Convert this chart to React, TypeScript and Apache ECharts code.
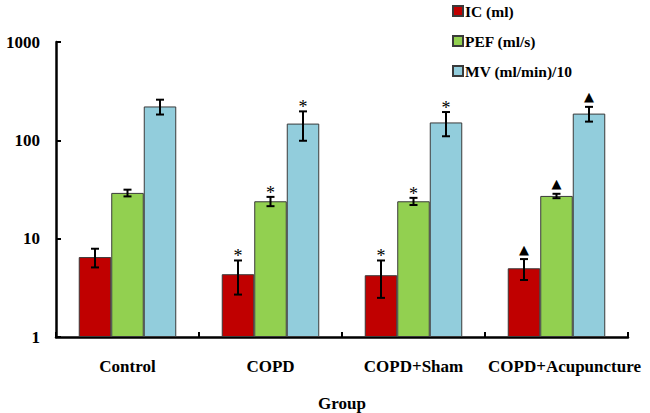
import React, { useEffect, useRef } from "react";
import * as echarts from "echarts";

const categories = ["Control", "COPD", "COPD+Sham", "COPD+Acupuncture"];
const seriesNames = ["IC (ml)", "PEF (ml/s)", "MV (ml/min)/10"];
const colors = ["#C00000", "#92D050", "#92CDDC"];
const icMean = [6.5, 4.35, 4.25, 5.0];
const icSd = [1.4, 1.65, 1.75, 1.2];
const pefMean = [29.2, 24.0, 24.0, 27.2];
const pefSd = [2.3, 2.6, 2.0, 1.4];
const mvMean = [221, 148, 152, 187];
const mvSd = [38, 49, 42, 32];
const icMarks = ["", "*", "*", "▲"];
const pefMarks = ["", "*", "*", "▲"];
const mvMarks = ["", "*", "*", "▲"];
const yTicks = [1, 10, 100, 1000];

const FONT = "Liberation Serif";

export default function App() {
  const ref = useRef<HTMLDivElement>(null);
  useEffect(() => {
    if (!ref.current) return;
    const chart = echarts.init(ref.current, null, { renderer: "svg" });
    const means = [icMean, pefMean, mvMean];
    const sds = [icSd, pefSd, mvSd];
    const marks = [icMarks, pefMarks, mvMarks];
    const errData: number[][] = [];
    const errMarks: string[] = [];
    means.forEach((arr, s) =>
      arr.forEach((m, c) => {
        errData.push([c, s, m, sds[s][c]]);
        errMarks.push(marks[s][c]);
      })
    );
    const gapFrac = 0.318;
    const barSeries = seriesNames.map((name, s) => ({
      name,
      type: "bar",
      data: means[s],
      barGap: "0%",
      barCategoryGap: "31.8%",
      itemStyle: { color: colors[s], borderColor: "#3a3a3a", borderWidth: 1 },
    }));
    const lastCat = categories[categories.length - 1];
    const option: any = {
      animation: false,
      backgroundColor: "#ffffff",
      textStyle: { fontFamily: FONT },
      grid: { left: 56, right: 22, top: 42, bottom: 76, outerBoundsMode: "none", containLabel: false },
      legend: {
        orient: "vertical",
        left: 447,
        top: -2,
        itemWidth: 10,
        itemHeight: 10,
        itemGap: 14,
        icon: "rect",
        data: seriesNames,
        textStyle: { fontFamily: FONT, fontWeight: "bold", fontSize: 15.5, color: "#000", padding: [0, 0, 0, -3] },
      },
      xAxis: {
        type: "category",
        data: categories,
        name: "Group",
        nameLocation: "middle",
        nameGap: 58,
        nameTextStyle: { fontFamily: FONT, fontWeight: "bold", fontSize: 17, color: "#000" },
        axisLine: { lineStyle: { color: "#000", width: 2.5 } },
        axisTick: { show: true, inside: true, length: 5, alignWithLabel: false, lineStyle: { color: "#000", width: 2 } },
        axisLabel: {
          fontFamily: FONT,
          fontWeight: "bold",
          fontSize: 17,
          color: "#000",
          margin: 21,
          interval: 0,
          formatter: (v: string) => (v === lastCat ? `{s|${v}}` : v),
          rich: { s: { fontFamily: FONT, fontWeight: "bold", fontSize: 17, color: "#000", padding: [0, 0, 0, 16] } },
        },
        splitLine: { show: false },
      },
      yAxis: {
        type: "log",
        logBase: 10,
        min: yTicks[0],
        max: yTicks[yTicks.length - 1],
        axisLine: { show: true, lineStyle: { color: "#000", width: 2.5 } },
        axisTick: { show: true, inside: true, length: 5, lineStyle: { color: "#000", width: 2 } },
        minorTick: { show: false },
        axisLabel: {
          fontFamily: FONT,
          fontWeight: "bold",
          fontSize: 17,
          color: "#000",
          margin: 16,
          formatter: (v: number) => String(Math.round(v)),
        },
        splitLine: { show: false },
      },
      series: [
        ...barSeries,
        {
          type: "custom",
          name: "err",
          clip: false,
          silent: true,
          z: 10,
          itemStyle: { color: "#000" },
          encode: { x: 0, y: 2 },
          data: errData,
          renderItem: (params: any, api: any) => {
            const c = api.value(0);
            const s = api.value(1);
            const m = api.value(2);
            const sd = api.value(3);
            const band = api.coord([1, 1])[0] - api.coord([0, 1])[0];
            const barW = (band * (1 - gapFrac)) / 3;
            const x = api.coord([c, m])[0] + (s - 1) * barW;
            const yTop = api.coord([c, m + sd])[1];
            const yBot = api.coord([c, Math.max(m - sd, 1.0001)])[1];
            const cap = 4;
            const ls = { stroke: "#000", lineWidth: 2 };
            const children: any[] = [
              { type: "line", shape: { x1: x, y1: yTop, x2: x, y2: yBot }, style: ls },
              { type: "line", shape: { x1: x - cap, y1: yTop, x2: x + cap, y2: yTop }, style: ls },
              { type: "line", shape: { x1: x - cap, y1: yBot, x2: x + cap, y2: yBot }, style: ls },
            ];
            const mk = errMarks[params.dataIndex];
            if (mk === "*") {
              children.push({
                type: "text",
                style: { text: "*", x, y: yTop - 4, align: "center", verticalAlign: "middle", fontSize: 18, fontFamily: FONT, fill: "#000" },
              });
            } else if (mk) {
              children.push({
                type: "text",
                style: { text: mk, x, y: yTop - 10, align: "center", verticalAlign: "middle", fontSize: 13, fontFamily: "DejaVu Sans", fill: "#000" },
              });
            }
            return { type: "group", children };
          },
        },
      ],
    };
    chart.setOption(option);
    return () => chart.dispose();
  }, []);
  return <div ref={ref} style={{ position: "fixed", left: 0, top: 0, width: 650, height: 413 }} />;
}
